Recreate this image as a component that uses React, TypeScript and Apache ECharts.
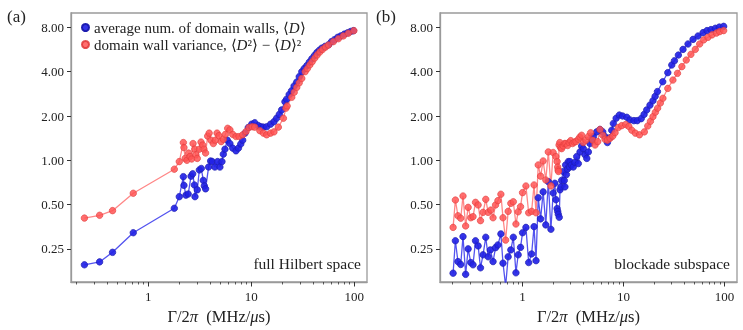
import React, { useEffect, useRef } from "react";
import * as echarts from "echarts";

const FONT = "'Liberation Serif', 'DejaVu Serif', serif";
const LFONT = "Liberation Serif";

// Panel (a): full Hilbert space  [Γ/2π, value]
const aBlue: [number, number][] = [
  [0.24, 0.195], [0.337, 0.204], [0.45, 0.237], [0.715, 0.322], [1.79, 0.472], [2.0, 0.566],
  [2.19, 0.774], [2.22, 0.676], [2.32, 0.58], [2.44, 0.59], [2.6, 0.78], [2.7, 0.81], [2.8, 0.68],
  [2.84, 0.566], [2.99, 0.63], [3.13, 0.86], [3.27, 0.88], [3.42, 0.73], [3.5, 0.67], [3.6, 0.64],
  [3.85, 0.9], [4.03, 0.99], [4.18, 0.98], [4.43, 0.9], [4.71, 0.98], [4.96, 0.9], [5.19, 0.98],
  [5.35, 1.1], [5.55, 1.19], [5.85, 1.37], [6.2, 1.3], [6.6, 1.21], [7.1, 1.16], [7.5, 1.21],
  [7.9, 1.29], [8.25, 1.37], [8.7, 1.53], [9.35, 1.67], [10.1, 1.76], [10.8, 1.8], [11.7, 1.72],
  [12.4, 1.69], [13.1, 1.68], [14.1, 1.69], [15.4, 1.76], [16.6, 1.83], [17.6, 1.93], [18.7, 2.05],
  [19.7, 2.2], [21.2, 2.5], [22.0, 2.6], [23.3, 2.8], [24.6, 2.97], [26.0, 3.2], [27.6, 3.4],
  [29.2, 3.7], [30.9, 4.0], [32.6, 4.2], [34.6, 4.4], [36.6, 4.65], [38.7, 4.9], [41.0, 5.15],
  [43.3, 5.4], [45.8, 5.6], [48.4, 5.78], [52.0, 5.95], [56.2, 6.1], [60.0, 6.4], [64.0, 6.6],
  [69.0, 6.85], [74.0, 7.0], [80.0, 7.2], [86.0, 7.35], [92.0, 7.5], [98.0, 7.6],
];
const aRed: [number, number][] = [
  [0.24, 0.405], [0.337, 0.423], [0.45, 0.455], [0.715, 0.597], [1.79, 0.87], [2.0, 0.98],
  [2.19, 1.32], [2.22, 1.22], [2.28, 1.03], [2.37, 1.0], [2.46, 1.12], [2.54, 1.06], [2.64, 1.02],
  [2.72, 1.3], [2.82, 1.19], [2.9, 1.09], [2.99, 1.03], [3.13, 1.19], [3.25, 1.33], [3.37, 1.27],
  [3.47, 1.19], [3.6, 1.12], [3.77, 1.46], [3.9, 1.53], [4.06, 1.37], [4.28, 1.3], [4.48, 1.37],
  [4.65, 1.53], [4.85, 1.47], [5.1, 1.34], [5.35, 1.39], [5.6, 1.5], [5.9, 1.65], [6.2, 1.61],
  [6.6, 1.5], [7.1, 1.45], [7.6, 1.45], [8.25, 1.49], [8.9, 1.57], [9.5, 1.67], [10.2, 1.69],
  [10.8, 1.68], [12.1, 1.59], [13.1, 1.53], [14.1, 1.49], [15.4, 1.53], [16.6, 1.56], [18.3, 1.68],
  [20.5, 1.93], [21.7, 2.26], [22.3, 2.34], [24.7, 2.68], [26.1, 2.9], [27.6, 3.13], [29.2, 3.36],
  [30.9, 3.6], [33.3, 4.0], [35.0, 4.2], [37.0, 4.45], [39.0, 4.68], [41.3, 4.95], [43.6, 5.2],
  [46.3, 5.45], [49.2, 5.67], [52.6, 5.88], [56.2, 6.07], [62.6, 6.4], [70.0, 6.7], [78.3, 7.0],
  [87.6, 7.3], [99.0, 7.6],
];

// Panel (b): blockade subspace
const bBlue: [number, number][] = [
  [0.205, 0.171], [0.216, 0.284], [0.229, 0.205], [0.244, 0.196], [0.257, 0.303], [0.273, 0.168],
  [0.289, 0.25], [0.307, 0.202], [0.323, 0.195], [0.342, 0.284], [0.363, 0.262], [0.383, 0.186],
  [0.406, 0.228], [0.432, 0.3], [0.456, 0.221], [0.48, 0.246], [0.51, 0.205], [0.54, 0.255],
  [0.57, 0.266], [0.61, 0.316], [0.64, 0.2], [0.68, 0.14], [0.72, 0.221], [0.765, 0.246],
  [0.81, 0.3], [0.86, 0.172], [0.905, 0.228], [0.955, 0.256], [1.0, 0.322], [1.08, 0.35],
  [1.15, 0.202], [1.23, 0.231], [1.3, 0.354], [1.36, 0.208], [1.43, 0.557], [1.51, 0.4],
  [1.6, 0.61], [1.7, 0.364], [1.8, 0.716], [1.91, 0.34], [2.01, 0.6], [2.09, 0.698], [2.14, 0.54],
  [2.2, 0.47], [2.23, 0.45], [2.26, 0.43], [2.31, 0.41], [2.35, 0.63], [2.4, 0.66], [2.44, 0.73],
  [2.53, 0.84], [2.59, 0.73], [2.63, 0.66], [2.67, 0.93], [2.72, 0.8], [2.78, 0.87], [2.84, 0.98],
  [2.92, 0.9], [2.95, 0.98], [3.05, 0.93], [3.18, 0.9], [3.3, 0.97], [3.44, 1.06], [3.57, 0.95],
  [3.71, 1.14], [3.85, 1.25], [4.0, 1.2], [4.16, 1.09], [4.33, 1.03], [4.49, 1.14], [4.66, 1.3],
  [4.84, 1.39], [5.03, 1.45], [5.43, 1.56], [5.85, 1.62], [6.23, 1.56], [6.56, 1.45], [6.93, 1.32],
  [7.3, 1.42], [7.65, 1.6], [7.94, 1.78], [8.46, 1.93], [9.1, 2.03], [9.8, 2.0], [10.8, 1.96],
  [11.6, 1.88], [12.7, 1.86], [13.7, 1.86], [15.0, 1.92], [16.0, 2.05], [17.0, 2.2], [18.3, 2.37],
  [19.6, 2.54], [20.6, 2.72], [21.7, 2.93], [24.5, 3.42], [27.5, 3.94], [30.1, 4.44], [32.0, 4.75],
  [35.0, 5.19], [38.9, 5.67], [43.6, 6.17], [48.9, 6.63], [54.8, 6.99], [61.5, 7.37], [67.3, 7.61],
  [73.7, 7.73], [81.4, 7.89], [89.1, 8.04], [98.3, 8.13],
];
const bRed: [number, number][] = [
  [0.205, 0.35], [0.216, 0.537], [0.229, 0.42], [0.244, 0.404], [0.257, 0.572], [0.273, 0.358],
  [0.289, 0.479], [0.307, 0.407], [0.323, 0.414], [0.342, 0.518], [0.363, 0.497], [0.383, 0.389],
  [0.406, 0.443], [0.432, 0.543], [0.456, 0.443], [0.485, 0.459], [0.51, 0.407], [0.54, 0.497],
  [0.57, 0.532], [0.61, 0.588], [0.64, 0.407], [0.68, 0.287], [0.72, 0.45], [0.765, 0.51],
  [0.81, 0.523], [0.86, 0.369], [0.905, 0.447], [0.955, 0.484], [1.0, 0.603], [1.08, 0.669],
  [1.15, 0.44], [1.23, 0.45], [1.3, 0.68], [1.36, 0.44], [1.43, 0.93], [1.51, 0.78], [1.6, 0.99],
  [1.7, 0.735], [1.8, 1.14], [1.91, 0.67], [2.01, 1.13], [2.14, 1.06], [2.2, 0.98], [2.23, 0.9],
  [2.25, 0.86], [2.27, 0.84], [2.3, 1.27], [2.34, 1.32], [2.38, 1.22], [2.44, 1.2], [2.53, 1.25],
  [2.6, 1.3], [2.69, 1.3], [2.8, 1.26], [2.9, 1.32], [3.0, 1.36], [3.13, 1.3], [3.25, 1.33],
  [3.38, 1.34], [3.57, 1.39], [3.7, 1.44], [3.85, 1.48], [4.0, 1.32], [4.25, 1.37], [4.49, 1.45],
  [4.73, 1.54], [4.96, 1.37], [5.23, 1.27], [5.56, 1.34], [5.85, 1.62], [6.23, 1.48], [6.56, 1.39],
  [6.93, 1.37], [7.37, 1.41], [7.83, 1.46], [8.26, 1.54], [8.9, 1.67], [9.6, 1.72], [10.5, 1.75],
  [11.3, 1.7], [12.1, 1.6], [13.1, 1.53], [14.4, 1.49], [16.1, 1.56], [17.4, 1.71], [18.5, 1.84],
  [19.6, 1.98], [20.7, 2.12], [21.8, 2.26], [23.2, 2.45], [24.6, 2.64], [27.5, 3.08], [30.9, 3.51],
  [34.3, 3.9], [37.9, 4.33], [41.9, 4.8], [46.6, 5.25], [51.5, 5.67], [56.9, 6.17], [62.4, 6.58],
  [68.8, 6.85], [75.5, 7.12], [83.4, 7.32], [89.7, 7.49], [98.3, 7.61],
];

const yTicks = [0.25, 0.5, 1, 2, 4, 8];
const xMajor = [1, 10, 100];
const xMinor = [0.2, 0.3, 0.4, 0.5, 0.6, 0.7, 0.8, 0.9, 2, 3, 4, 5, 6, 7, 8, 9, 20, 30, 40, 50, 60, 70, 80, 90];

const seriesNames = { avg: "avg", vr: "var" };

const toXY = (arr: [number, number][]) => arr.map(([x, y]) => [Math.log10(x), Math.log2(y)]);

export default function App() {
  const ref = useRef<HTMLDivElement>(null);
  useEffect(() => {
    if (!ref.current) return;
    const chart = echarts.init(ref.current, null, { renderer: "svg" });
    const textColor = "#222";
    const frame = "#9a9a9a";
    const grids = [
      { left: 71, top: 13, width: 296, height: 269, xmin: -0.75, xmax: 2.123 },
      { left: 440, top: 13, width: 297, height: 269, xmin: -0.818, xmax: 2.125 },
    ];
    const ymin = -2.747;
    const ymax = 3.325;
    const xAxes: any[] = [];
    const yAxes: any[] = [];
    grids.forEach((g, gi) => {
      xAxes.push({
        gridIndex: gi, type: "value", min: g.xmin, max: g.xmax, position: "bottom",
        axisLine: { show: true, onZero: false, lineStyle: { color: frame, width: 1.3 } },
        axisTick: { show: true, customValues: xMajor.map((v) => Math.log10(v)), length: 4.5, lineStyle: { color: "#333", width: 1 } },
        axisLabel: {
          customValues: xMajor.map((v) => Math.log10(v)),
          formatter: (v: number) => String(Math.round(Math.pow(10, v))),
          margin: 8, fontFamily: FONT, fontSize: 13, color: textColor,
        },
        splitLine: { show: false },
        name: "{n|Γ/2}{i|π}{n|  (MHz/}{i|μ}{n|s)}", nameLocation: "middle", nameGap: 21,
        nameTextStyle: {
          fontFamily: FONT, fontSize: 16.5, color: textColor,
          rich: {
            n: { fontFamily: FONT, fontSize: 16.5, color: textColor },
            i: { fontFamily: FONT, fontSize: 16.5, fontStyle: "italic", color: textColor },
          },
        },
      });
      xAxes.push({
        gridIndex: gi, type: "value", min: g.xmin, max: g.xmax, position: "bottom",
        axisLine: { show: false, onZero: false },
        axisTick: { show: true, customValues: xMinor.map((v) => Math.log10(v)), length: 2.5, lineStyle: { color: "#333", width: 0.8 } },
        axisLabel: { show: false },
        splitLine: { show: false },
      });
      yAxes.push({
        gridIndex: gi, type: "value", min: ymin, max: ymax,
        axisLine: { show: true, onZero: false, lineStyle: { color: frame, width: 1.3 } },
        axisTick: { show: true, customValues: yTicks.map((v) => Math.log2(v)), length: 4, lineStyle: { color: "#333", width: 1 } },
        axisLabel: {
          customValues: yTicks.map((v) => Math.log2(v)),
          formatter: (v: number) => Math.pow(2, v).toFixed(2),
          margin: 7, fontFamily: FONT, fontSize: 13, color: textColor,
        },
        splitLine: { show: false },
      });
    });

    const blueStyle = {
      lineStyle: { color: "rgba(40,40,235,0.8)", width: 1.3 },
      itemStyle: { color: "rgba(35,35,230,0.92)", borderColor: "#1c1cb0", borderWidth: 0.7 },
    };
    const redStyle = {
      lineStyle: { color: "rgba(255,95,95,0.75)", width: 1.3 },
      itemStyle: { color: "rgba(255,85,85,0.85)", borderColor: "rgba(225,60,60,0.9)", borderWidth: 0.7 },
    };
    const mk = (name: string, data: [number, number][], xi: number, yi: number, st: any) => ({
      name, type: "line", xAxisIndex: xi, yAxisIndex: yi, data: toXY(data),
      symbol: "circle", symbolSize: 6.5, showSymbol: true, clip: true, ...st,
    });

    const lf = 15;
    chart.setOption({
      animation: false,
      grid: grids.map((g) => ({
        left: g.left, top: g.top, width: g.width, height: g.height,
        show: true, borderColor: frame, borderWidth: 1.3, backgroundColor: "transparent",
      })),
      xAxis: xAxes,
      yAxis: yAxes,
      legend: {
        left: 76, top: 15, orient: "vertical", itemGap: 2, itemWidth: 7, itemHeight: 7, icon: "circle",
        data: [seriesNames.avg, seriesNames.vr],
        formatter: (n: string) =>
          n === seriesNames.avg
            ? "{n|average num. of domain walls, ⟨}{i|D}{n|⟩}"
            : "{n|domain wall variance, ⟨}{i|D}{n|²⟩ − ⟨}{i|D}{n|⟩²}",
        textStyle: {
          fontFamily: LFONT, fontSize: lf, color: textColor, lineHeight: 15,
          rich: {
            n: { fontFamily: LFONT, fontSize: lf, color: textColor, lineHeight: 15 },
            i: { fontFamily: LFONT, fontSize: lf, fontStyle: "italic", color: textColor, lineHeight: 15 },
          },
        },
      },
      series: [
        mk(seriesNames.avg, aBlue, 0, 0, blueStyle),
        mk(seriesNames.vr, aRed, 0, 0, redStyle),
        mk(seriesNames.avg, bBlue, 2, 1, blueStyle),
        mk(seriesNames.vr, bRed, 2, 1, redStyle),
      ],
      graphic: [
        { type: "text", left: 7, top: 8, style: { text: "(a)", font: `17px ${FONT}`, fill: textColor } },
        { type: "text", left: 376, top: 8, style: { text: "(b)", font: `17px ${FONT}`, fill: textColor } },
        { type: "text", right: 382, top: 255, style: { text: "full Hilbert space", font: `15.5px ${FONT}`, fill: textColor } },
        { type: "text", right: 13, top: 255, style: { text: "blockade subspace", font: `15.5px ${FONT}`, fill: textColor } },
      ],
    });
    return () => chart.dispose();
  }, []);
  return <div ref={ref} style={{ position: "fixed", left: 0, top: 0, width: 743, height: 330 }} />;
}
